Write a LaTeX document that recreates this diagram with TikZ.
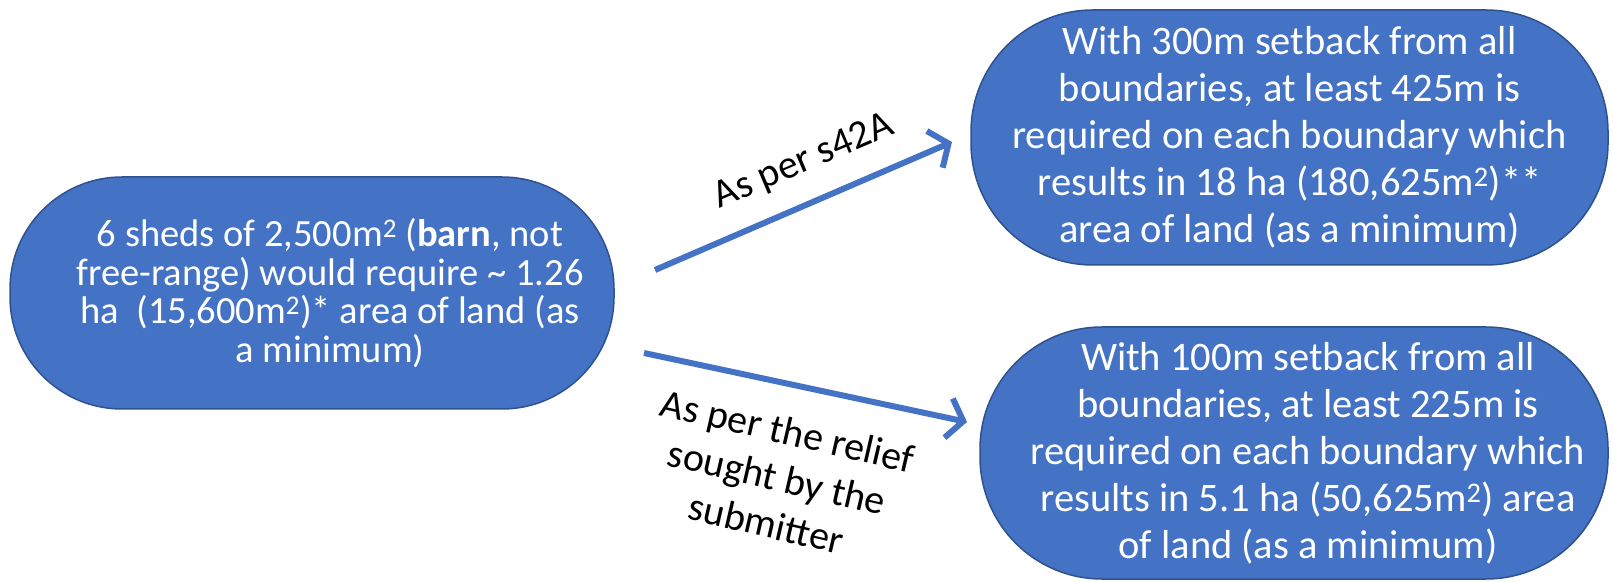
\documentclass[tikz,border=0pt]{standalone}
\usepackage{fontspec}
\setmainfont{Carlito}
\usetikzlibrary{arrows.meta}
\definecolor{officeblue}{HTML}{4472C4}
\definecolor{borderblue}{HTML}{2F528F}
\tikzset{
  pill/.style={draw=borderblue, line width=1.5pt, fill=officeblue, text=white,
    align=center, inner sep=0pt, rounded corners=#1},
  leftfont/.style={font=\fontsize{38.5}{38.5}\selectfont},
  rightfont/.style={font=\fontsize{40.5}{47}\selectfont},
  conn/.style={draw=officeblue, line width=6pt,
    -{Straight Barb[length=15pt,width=40pt]}},
  lbl/.style={align=center, font=\fontsize{40}{47.5}\selectfont, text=black}
}
\begin{document}
\begin{tikzpicture}[x=1pt,y=1pt]
\useasboundingbox (0,0) rectangle (1613,581);
\node[pill=112pt, leftfont, minimum width=604pt, minimum height=232pt] (L) at (312,288)
  {\hspace*{36pt}6 sheds of 2,500m\textsuperscript{2} (\textbf{barn}, not\\
   \hspace*{36pt}free-range) would require \textasciitilde{} 1.26\\
   \hspace*{36pt}ha\ \ (15,600m\textsuperscript{2})* area of land (as\\
   \hspace*{36pt}a minimum)};
\node[pill=122pt, rightfont, minimum width=637pt, minimum height=255pt] (T) at (1289.5,443.5)
  {With 300m setback from all\\
   boundaries, at least 425m is\\
   required on each boundary which\\
   results in 18 ha (180,625m\textsuperscript{2})**\\
   area of land (as a minimum)};
\node[pill=122pt, rightfont, minimum width=628pt, minimum height=252pt] (B) at (1294,128)
  {\hspace*{28pt}With 100m setback from all\\
   \hspace*{28pt}boundaries, at least 225m is\\
   \hspace*{28pt}required on each boundary which\\
   \hspace*{28pt}results in 5.1 ha (50,625m\textsuperscript{2}) area\\
   \hspace*{28pt}of land (as a minimum)};
\coordinate (a1s) at (655,311);
\coordinate (a1e) at (952,439);
\coordinate (a2s) at (644,228);
\coordinate (a2e) at (967,159);
\draw[conn] (a1s) -- (a1e);
\draw[conn] (a2s) -- (a2e);
\node[lbl, rotate=23] (l1) at (804,419) {As per s42A};
\node[lbl, rotate=-13] (l2) at (777,104) {As per the relief\\sought by the\\submitter};
\end{tikzpicture}
\end{document}
